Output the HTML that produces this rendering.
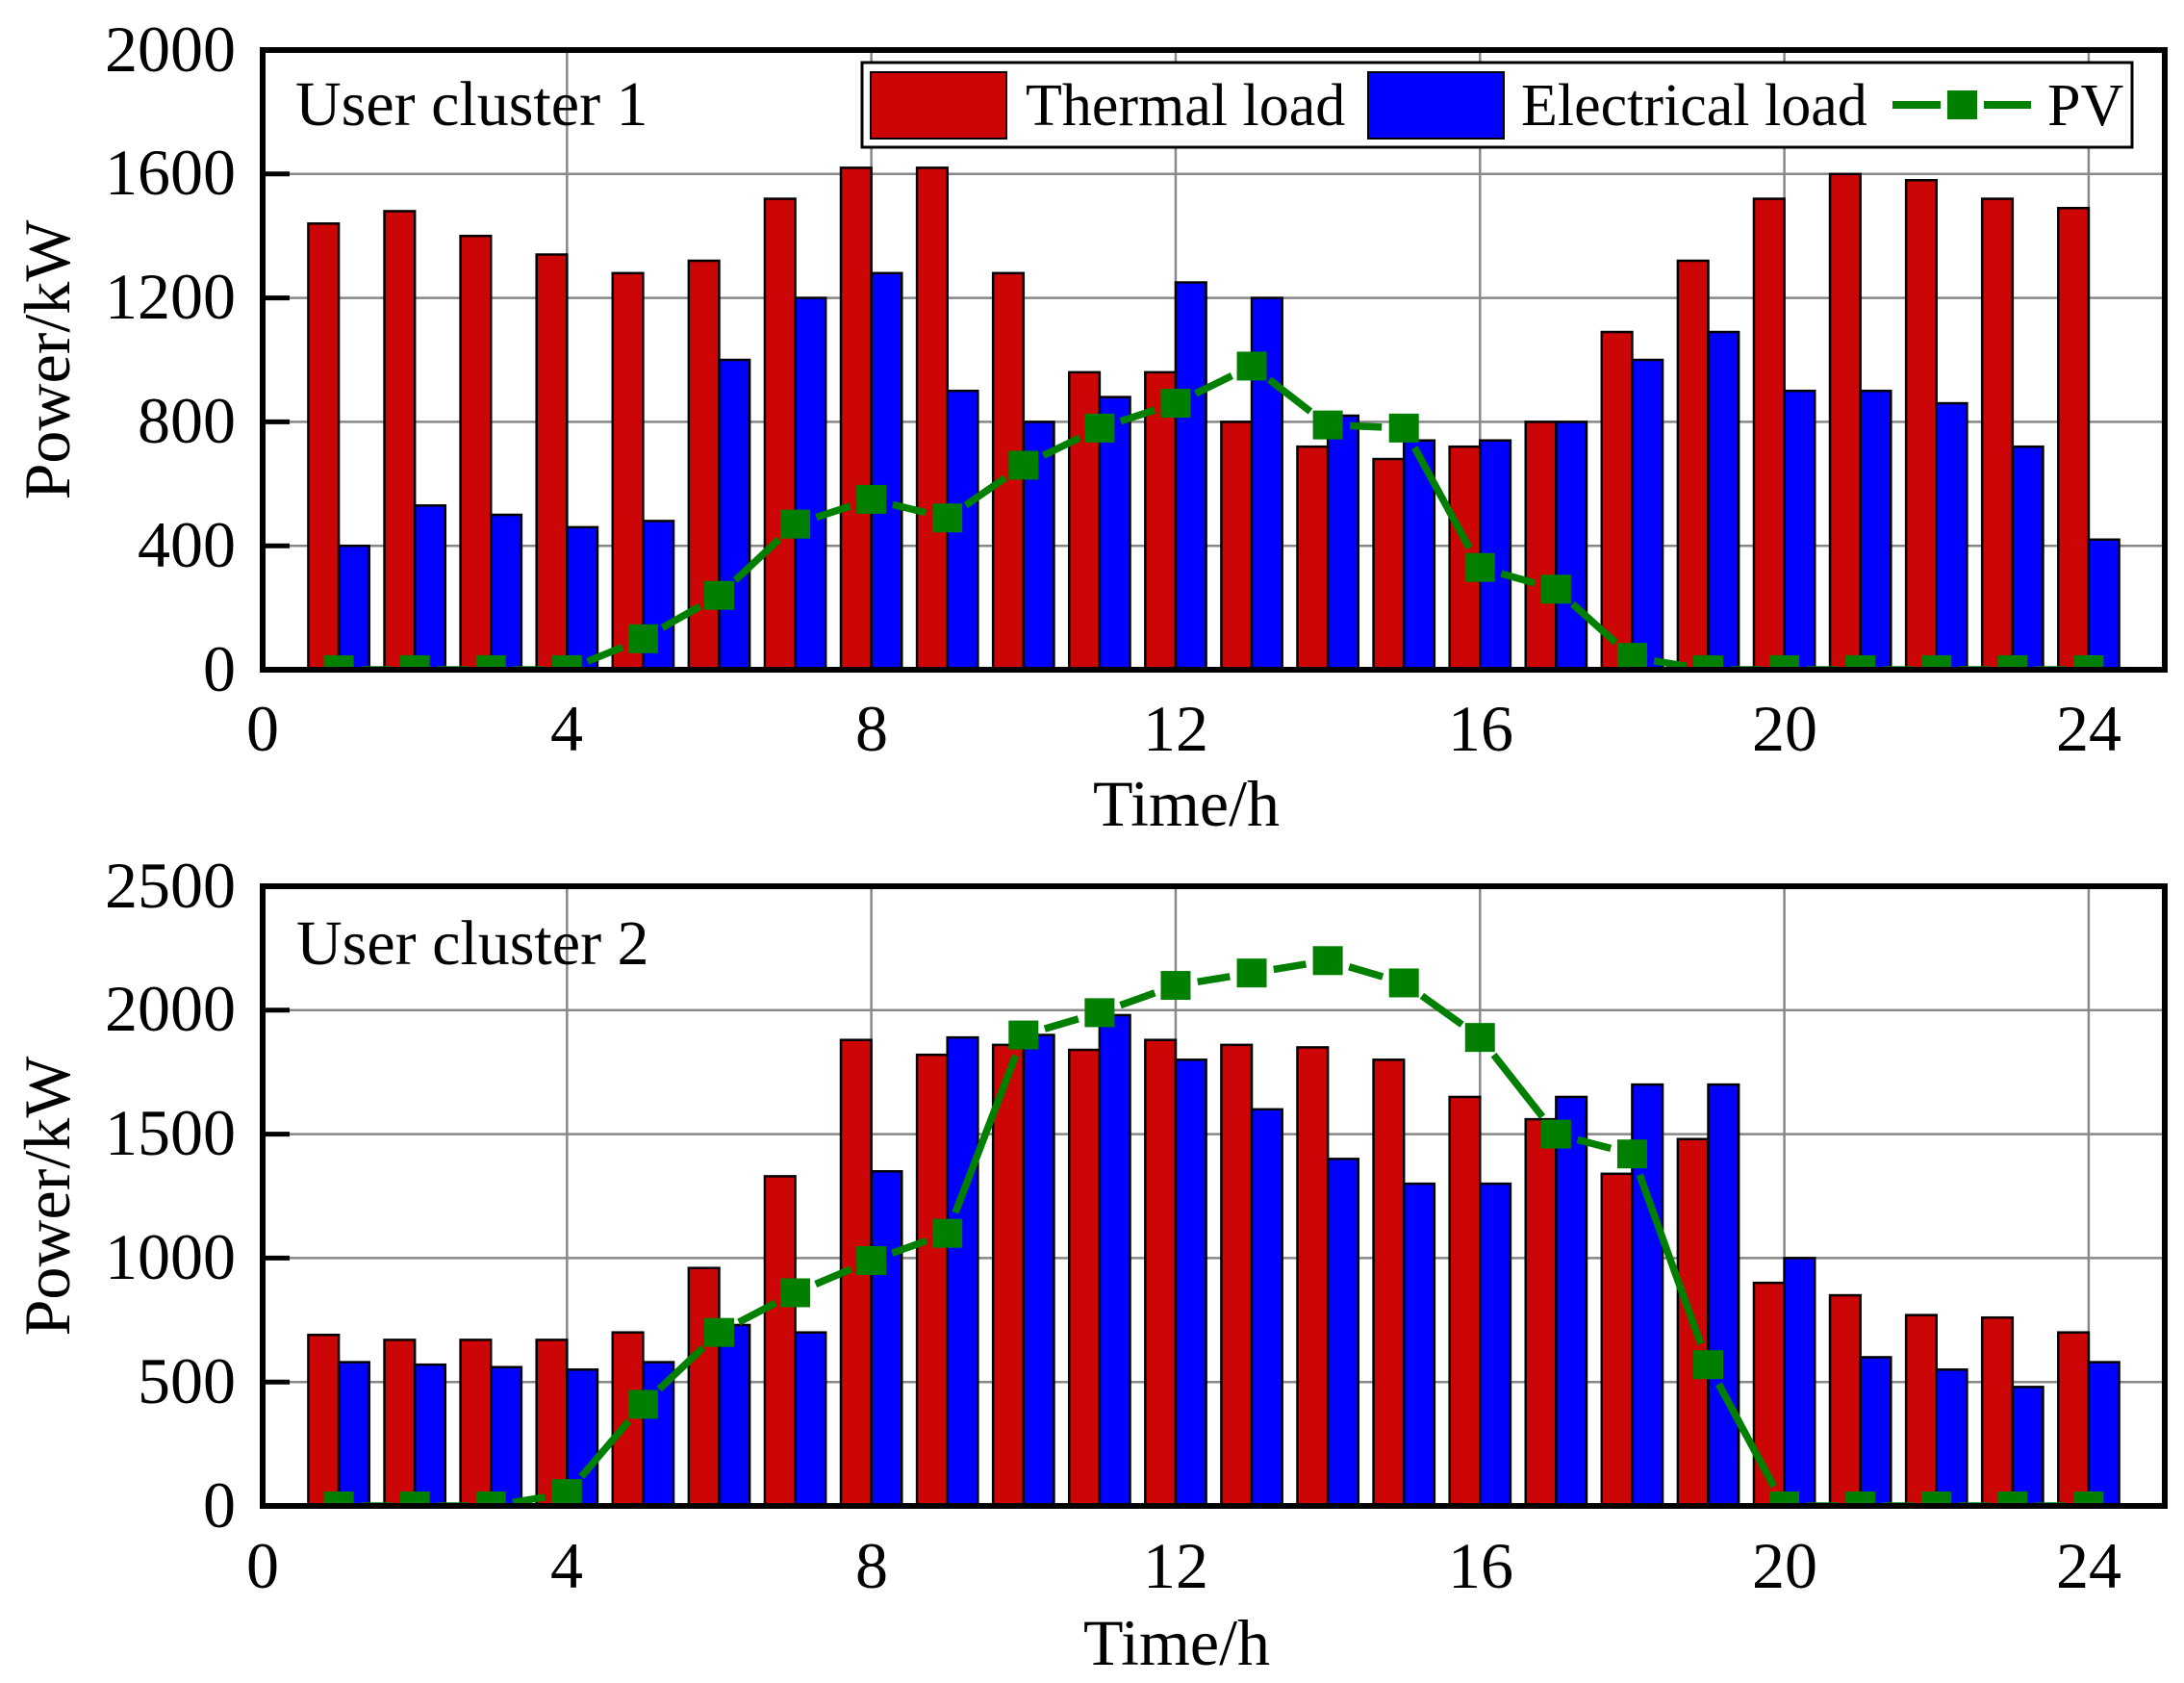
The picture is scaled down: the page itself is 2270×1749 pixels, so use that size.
<!DOCTYPE html>
<html><head><meta charset="utf-8"><style>
html,body{margin:0;padding:0;background:#fff;}
svg{display:block;font-family:"Liberation Serif",serif;}
</style></head><body>
<svg id="s" width="2270" height="1749" viewBox="0 0 2270 1749" xmlns="http://www.w3.org/2000/svg">
<defs>
<clipPath id="c1"><rect x="273" y="52" width="1977" height="644"/></clipPath>
<clipPath id="c2"><rect x="273" y="921" width="1977" height="644"/></clipPath>
</defs>
<g id="g1"></g>
<g id="g2"></g>
<g font-size="68" fill="#000" text-anchor="end">
<text x="245" y="718">0</text><text x="245" y="589">400</text><text x="245" y="460">800</text><text x="245" y="331">1200</text><text x="245" y="202">1600</text><text x="245" y="74">2000</text>
<text x="245" y="1587">0</text><text x="245" y="1458">500</text><text x="245" y="1329">1000</text><text x="245" y="1200">1500</text><text x="245" y="1071">2000</text><text x="245" y="943">2500</text>
</g>
<g font-size="68" fill="#000" text-anchor="middle">
<text x="273" y="780">0</text><text x="589" y="780">4</text><text x="906" y="780">8</text><text x="1222" y="780">12</text><text x="1539" y="780">16</text><text x="1855" y="780">20</text><text x="2171" y="780">24</text>
<text x="273" y="1650">0</text><text x="589" y="1650">4</text><text x="906" y="1650">8</text><text x="1222" y="1650">12</text><text x="1539" y="1650">16</text><text x="1855" y="1650">20</text><text x="2171" y="1650">24</text>
<text x="1233" y="858">Time/h</text><text x="1223" y="1730">Time/h</text>
<text transform="translate(72,374) rotate(-90)">Power/kW</text>
<text transform="translate(72,1243) rotate(-90)">Power/kW</text>
</g>
<g font-size="66" fill="#000">
<text x="307" y="130">User cluster 1</text>
<text x="308" y="1002">User cluster 2</text>
</g>
<g>
<rect x="896" y="65" width="1320" height="88" fill="#fff" stroke="#000" stroke-width="3"/>
<rect x="905" y="75" width="141" height="69" fill="#cc0606" stroke="#000" stroke-width="2"/>
<rect x="1422" y="75" width="141" height="69" fill="#0000ff" stroke="#000" stroke-width="2"/>
<line x1="1967" y1="109" x2="2017" y2="109" stroke="#007f00" stroke-width="8"/>
<line x1="2062" y1="109" x2="2111" y2="109" stroke="#007f00" stroke-width="8"/>
<rect x="2024" y="94" width="31" height="30" fill="#007f00"/>
<text x="1066" y="130" font-size="62">Thermal load</text>
<text x="1581" y="130" font-size="62">Electrical load</text>
<text x="2128" y="130" font-size="62">PV</text>
</g>
</svg>
<script>
var NS="http://www.w3.org/2000/svg";
function el(p,t,a){var e=document.createElementNS(NS,t);for(var k in a)e.setAttribute(k,a[k]);p.appendChild(e);return e;}
var X0=273,PX=79.08;
function X(h){return X0+h*PX;}
function plot(gid,top,bot,max,step,clip,th,el2,pv){
 var g=document.getElementById(gid),H=bot-top;
 function Y(v){return bot-v*H/max;}
 for(var v=step;v<max;v+=step)el(g,"line",{x1:X0,x2:2250,y1:Y(v),y2:Y(v),stroke:"#888","stroke-width":2.5});
 for(var h=4;h<=24;h+=4)el(g,"line",{x1:X(h),x2:X(h),y1:top,y2:bot,stroke:"#888","stroke-width":2.5});
 for(var i=0;i<24;i++){var h=i+1;
  el(g,"rect",{x:X(h-0.4),y:Y(th[i]),width:0.4*PX,height:bot-Y(th[i]),fill:"#cc0606",stroke:"#000","stroke-width":2.5});
  el(g,"rect",{x:X(h),y:Y(el2[i]),width:0.4*PX,height:bot-Y(el2[i]),fill:"#0000ff",stroke:"#000","stroke-width":2.5});
 }
 var cg=el(g,"g",{"clip-path":"url(#"+clip+")"});
 for(var i=0;i<23;i++){var x1=X(i+1),y1=Y(pv[i]),x2=X(i+2),y2=Y(pv[i+1]);
  var dx=x2-x1,dy=y2-y1,L=Math.sqrt(dx*dx+dy*dy),gp=23;
  if(L>2*gp+2){var ux=dx/L,uy=dy/L;
   el(cg,"line",{x1:x1+ux*gp,y1:y1+uy*gp,x2:x2-ux*gp,y2:y2-uy*gp,stroke:"#007f00","stroke-width":7.5});}
 }
 for(var i=0;i<24;i++)el(cg,"rect",{x:X(i+1)-15.5,y:Y(pv[i])-15,width:31,height:30,fill:"#007f00"});
 for(var v=step;v<max;v+=step)el(g,"line",{x1:X0,x2:X0+28,y1:Y(v),y2:Y(v),stroke:"#000","stroke-width":5});
 el(g,"rect",{x:X0,y:top,width:2250-X0,height:H,fill:"none",stroke:"#000","stroke-width":6});
}
plot("g1",52,696,2000,400,"c1",
[1440,1480,1400,1340,1280,1320,1520,1620,1620,1280,960,960,800,720,680,720,800,1090,1320,1520,1600,1580,1520,1490],
[400,530,500,460,480,1000,1200,1280,900,800,880,1250,1200,820,740,740,800,1000,1090,900,900,860,720,420],
[0,0,0,0,100,240,470,550,490,660,780,860,980,790,780,330,260,40,0,0,0,0,0,0]);
plot("g2",921,1565,2500,500,"c2",
[690,670,670,670,700,960,1330,1880,1820,1860,1840,1880,1860,1850,1800,1650,1560,1340,1480,900,850,770,760,700],
[580,570,560,550,580,730,700,1350,1890,1900,1980,1800,1600,1400,1300,1300,1650,1700,1700,1000,600,550,480,580],
[0,0,0,50,410,700,860,990,1100,1900,1990,2100,2150,2200,2110,1890,1500,1420,570,0,0,0,0,0]);
</script>
</body></html>
